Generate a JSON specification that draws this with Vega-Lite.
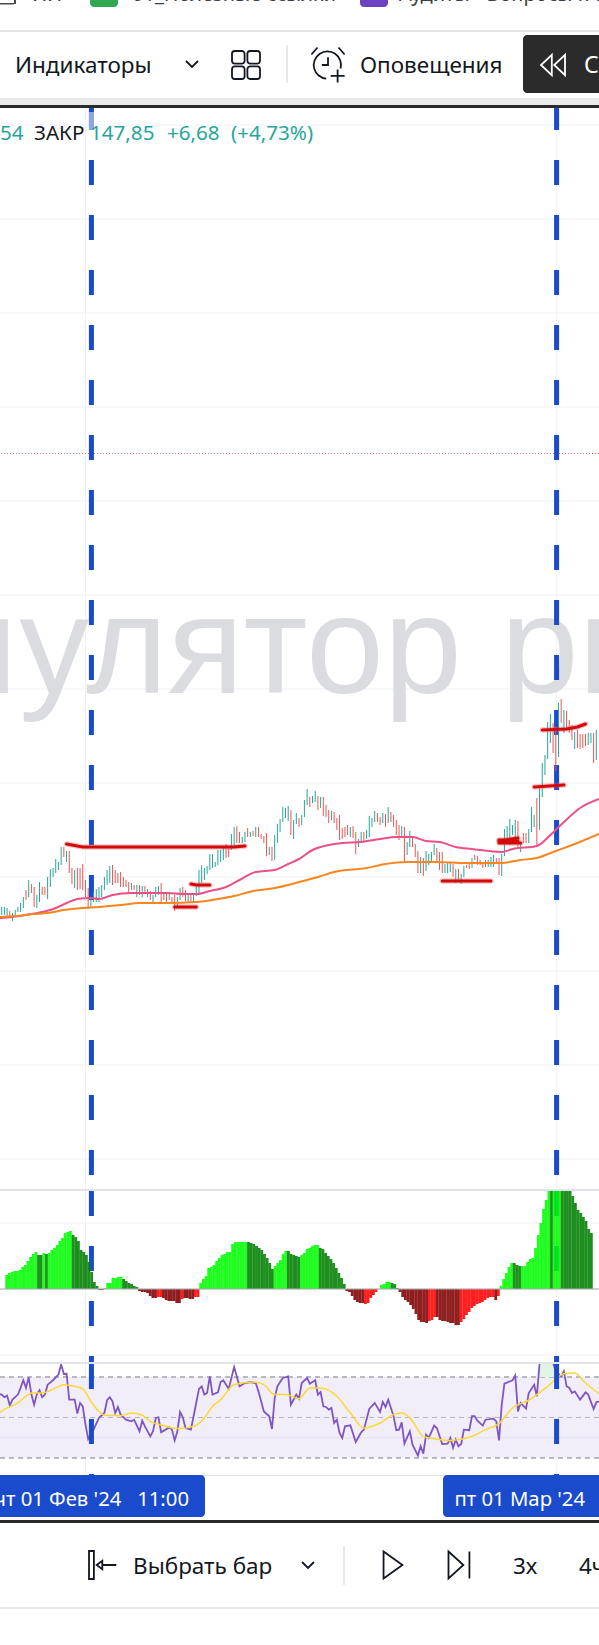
{"$schema":"https://vega.github.io/schema/vega-lite/v6.json","width":599,"height":1645,"padding":0,"autosize":{"type":"none"},"background":"white","config":{"view":{"stroke":null}},
"datasets":{
"bars":[{"bar":0,"high":102.5,"low":101.7,"dir":"up","hist":1.4,"tone":"A"},{"bar":1,"high":102.5,"low":101.7,"dir":"up","hist":1.6,"tone":"A"},{"bar":2,"high":102.4,"low":101.6,"dir":"up","hist":1.7,"tone":"A"},{"bar":3,"high":102.1,"low":101.5,"dir":"down","hist":1.8,"tone":"A"},{"bar":4,"high":101.9,"low":101.1,"dir":"up","hist":1.8,"tone":"A"},{"bar":5,"high":102.2,"low":101.5,"dir":"up","hist":1.9,"tone":"A"},{"bar":6,"high":102.5,"low":102.0,"dir":"up","hist":2.2,"tone":"A"},{"bar":7,"high":102.9,"low":102.0,"dir":"up","hist":2.4,"tone":"A"},{"bar":8,"high":103.5,"low":102.4,"dir":"up","hist":2.8,"tone":"A"},{"bar":9,"high":104.2,"low":103.2,"dir":"down","hist":3.2,"tone":"A"},{"bar":10,"high":105.2,"low":103.5,"dir":"up","hist":3.5,"tone":"A"},{"bar":11,"high":104.8,"low":103.9,"dir":"down","hist":3.7,"tone":"A"},{"bar":12,"high":104.5,"low":102.5,"dir":"down","hist":3.4,"tone":"B"},{"bar":13,"high":103.7,"low":102.4,"dir":"up","hist":3.4,"tone":"B"},{"bar":14,"high":105.0,"low":103.0,"dir":"up","hist":3.6,"tone":"A"},{"bar":15,"high":104.5,"low":103.7,"dir":"down","hist":3.5,"tone":"B"},{"bar":16,"high":104.5,"low":103.7,"dir":"down","hist":3.6,"tone":"A"},{"bar":17,"high":105.5,"low":103.3,"dir":"up","hist":3.9,"tone":"A"},{"bar":18,"high":106.3,"low":104.5,"dir":"up","hist":4.1,"tone":"A"},{"bar":19,"high":106.4,"low":105.5,"dir":"up","hist":4.4,"tone":"A"},{"bar":20,"high":107.3,"low":105.9,"dir":"up","hist":4.8,"tone":"A"},{"bar":21,"high":107.0,"low":106.2,"dir":"up","hist":5.1,"tone":"A"},{"bar":22,"high":108.5,"low":106.7,"dir":"up","hist":5.6,"tone":"A"},{"bar":23,"high":108.5,"low":107.5,"dir":"down","hist":5.7,"tone":"A"},{"bar":24,"high":108.1,"low":107.0,"dir":"up","hist":5.8,"tone":"A"},{"bar":25,"high":108.1,"low":105.9,"dir":"down","hist":5.4,"tone":"B"},{"bar":26,"high":106.4,"low":104.8,"dir":"down","hist":5.2,"tone":"B"},{"bar":27,"high":106.2,"low":104.4,"dir":"up","hist":4.8,"tone":"B"},{"bar":28,"high":106.4,"low":104.2,"dir":"down","hist":3.9,"tone":"B"},{"bar":29,"high":106.4,"low":104.3,"dir":"down","hist":3.7,"tone":"B"},{"bar":30,"high":106.8,"low":104.2,"dir":"down","hist":3.4,"tone":"B"},{"bar":31,"high":105.2,"low":103.5,"dir":"down","hist":2.7,"tone":"B"},{"bar":32,"high":104.4,"low":102.3,"dir":"down","hist":1.7,"tone":"B"},{"bar":33,"high":103.5,"low":102.4,"dir":"up","hist":0.7,"tone":"B"},{"bar":34,"high":103.9,"low":103.0,"dir":"up","hist":0.3,"tone":"B"},{"bar":35,"high":104.3,"low":103.0,"dir":"up","hist":-0.1,"tone":"C"},{"bar":36,"high":104.5,"low":103.0,"dir":"up","hist":-0.1,"tone":"C"},{"bar":37,"high":104.7,"low":103.5,"dir":"up","hist":0.1,"tone":"A"},{"bar":38,"high":105.5,"low":104.2,"dir":"up","hist":0.6,"tone":"A"},{"bar":39,"high":106.2,"low":104.7,"dir":"up","hist":0.6,"tone":"A"},{"bar":40,"high":106.6,"low":104.9,"dir":"up","hist":1.1,"tone":"A"},{"bar":41,"high":106.7,"low":104.7,"dir":"down","hist":1.1,"tone":"A"},{"bar":42,"high":106.2,"low":104.9,"dir":"down","hist":1.2,"tone":"A"},{"bar":43,"high":105.9,"low":104.9,"dir":"down","hist":1.2,"tone":"A"},{"bar":44,"high":106.0,"low":104.5,"dir":"down","hist":1.0,"tone":"B"},{"bar":45,"high":105.5,"low":104.5,"dir":"down","hist":0.8,"tone":"B"},{"bar":46,"high":105.2,"low":104.5,"dir":"down","hist":0.6,"tone":"B"},{"bar":47,"high":105.0,"low":103.9,"dir":"down","hist":0.5,"tone":"B"},{"bar":48,"high":104.9,"low":104.2,"dir":"up","hist":0.3,"tone":"B"},{"bar":49,"high":104.7,"low":104.2,"dir":"down","hist":0.2,"tone":"B"},{"bar":50,"high":104.7,"low":103.5,"dir":"up","hist":-0.2,"tone":"C"},{"bar":51,"high":104.7,"low":103.7,"dir":"down","hist":-0.3,"tone":"C"},{"bar":52,"high":104.6,"low":103.5,"dir":"up","hist":-0.3,"tone":"C"},{"bar":53,"high":104.6,"low":104.0,"dir":"down","hist":-0.4,"tone":"C"},{"bar":54,"high":104.3,"low":103.5,"dir":"up","hist":-0.7,"tone":"C"},{"bar":55,"high":104.1,"low":103.2,"dir":"down","hist":-0.9,"tone":"C"},{"bar":56,"high":103.7,"low":102.8,"dir":"up","hist":-0.9,"tone":"C"},{"bar":57,"high":104.5,"low":103.5,"dir":"up","hist":-0.8,"tone":"D"},{"bar":58,"high":104.6,"low":103.7,"dir":"up","hist":-0.8,"tone":"D"},{"bar":59,"high":104.9,"low":103.0,"dir":"down","hist":-0.9,"tone":"C"},{"bar":60,"high":104.0,"low":103.2,"dir":"down","hist":-1.1,"tone":"C"},{"bar":61,"high":103.9,"low":102.9,"dir":"down","hist":-1.2,"tone":"C"},{"bar":62,"high":104.0,"low":103.2,"dir":"up","hist":-1.2,"tone":"C"},{"bar":63,"high":103.5,"low":103.0,"dir":"down","hist":-1.2,"tone":"C"},{"bar":64,"high":103.7,"low":102.1,"dir":"down","hist":-1.4,"tone":"C"},{"bar":65,"high":103.5,"low":102.5,"dir":"up","hist":-1.4,"tone":"C"},{"bar":66,"high":104.4,"low":103.2,"dir":"up","hist":-1.0,"tone":"D"},{"bar":67,"high":104.5,"low":103.5,"dir":"down","hist":-0.9,"tone":"C"},{"bar":68,"high":104.2,"low":103.1,"dir":"down","hist":-0.9,"tone":"C"},{"bar":69,"high":103.7,"low":103.0,"dir":"up","hist":-1.0,"tone":"C"},{"bar":70,"high":103.9,"low":102.9,"dir":"down","hist":-1.0,"tone":"C"},{"bar":71,"high":103.9,"low":103.0,"dir":"up","hist":-0.8,"tone":"D"},{"bar":72,"high":104.5,"low":103.6,"dir":"up","hist":-0.8,"tone":"D"},{"bar":73,"high":106.2,"low":103.9,"dir":"up","hist":0.6,"tone":"A"},{"bar":74,"high":106.7,"low":104.9,"dir":"up","hist":1.0,"tone":"A"},{"bar":75,"high":106.4,"low":105.2,"dir":"up","hist":1.3,"tone":"A"},{"bar":76,"high":106.6,"low":105.8,"dir":"up","hist":2.1,"tone":"A"},{"bar":77,"high":107.8,"low":106.2,"dir":"up","hist":2.2,"tone":"A"},{"bar":78,"high":107.8,"low":106.4,"dir":"up","hist":2.4,"tone":"A"},{"bar":79,"high":107.0,"low":106.5,"dir":"up","hist":2.8,"tone":"A"},{"bar":80,"high":108.2,"low":106.7,"dir":"up","hist":3.1,"tone":"A"},{"bar":81,"high":108.2,"low":107.0,"dir":"up","hist":3.4,"tone":"A"},{"bar":82,"high":108.4,"low":107.2,"dir":"up","hist":3.5,"tone":"A"},{"bar":83,"high":108.8,"low":107.4,"dir":"down","hist":3.7,"tone":"A"},{"bar":84,"high":108.5,"low":107.5,"dir":"down","hist":3.7,"tone":"A"},{"bar":85,"high":109.8,"low":108.2,"dir":"up","hist":4.5,"tone":"A"},{"bar":86,"high":110.5,"low":108.5,"dir":"up","hist":4.7,"tone":"A"},{"bar":87,"high":110.6,"low":108.9,"dir":"down","hist":4.7,"tone":"A"},{"bar":88,"high":110.0,"low":108.9,"dir":"down","hist":4.7,"tone":"A"},{"bar":89,"high":109.5,"low":108.9,"dir":"up","hist":4.7,"tone":"A"},{"bar":90,"high":110.0,"low":109.0,"dir":"up","hist":4.7,"tone":"A"},{"bar":91,"high":110.4,"low":109.5,"dir":"down","hist":4.7,"tone":"B"},{"bar":92,"high":110.0,"low":109.5,"dir":"up","hist":4.6,"tone":"B"},{"bar":93,"high":110.1,"low":109.6,"dir":"down","hist":4.5,"tone":"B"},{"bar":94,"high":110.5,"low":109.5,"dir":"up","hist":4.3,"tone":"B"},{"bar":95,"high":110.5,"low":109.5,"dir":"down","hist":4.1,"tone":"B"},{"bar":96,"high":109.8,"low":109.3,"dir":"down","hist":3.9,"tone":"B"},{"bar":97,"high":109.6,"low":108.9,"dir":"down","hist":3.5,"tone":"B"},{"bar":98,"high":109.9,"low":107.6,"dir":"down","hist":3.1,"tone":"B"},{"bar":99,"high":108.5,"low":107.7,"dir":"up","hist":2.6,"tone":"B"},{"bar":100,"high":108.5,"low":107.1,"dir":"down","hist":2.0,"tone":"B"},{"bar":101,"high":109.7,"low":107.2,"dir":"up","hist":2.3,"tone":"A"},{"bar":102,"high":110.8,"low":108.9,"dir":"up","hist":2.6,"tone":"A"},{"bar":103,"high":111.3,"low":110.0,"dir":"up","hist":2.9,"tone":"A"},{"bar":104,"high":112.5,"low":111.0,"dir":"up","hist":3.5,"tone":"A"},{"bar":105,"high":112.4,"low":111.4,"dir":"up","hist":3.8,"tone":"A"},{"bar":106,"high":112.6,"low":111.1,"dir":"up","hist":3.8,"tone":"B"},{"bar":107,"high":112.2,"low":109.7,"dir":"down","hist":3.5,"tone":"B"},{"bar":108,"high":111.2,"low":109.3,"dir":"up","hist":3.4,"tone":"B"},{"bar":109,"high":111.9,"low":110.8,"dir":"up","hist":3.3,"tone":"B"},{"bar":110,"high":111.4,"low":110.5,"dir":"down","hist":3.2,"tone":"B"},{"bar":111,"high":111.7,"low":110.7,"dir":"up","hist":3.4,"tone":"A"},{"bar":112,"high":113.2,"low":111.5,"dir":"up","hist":3.6,"tone":"A"},{"bar":113,"high":114.3,"low":112.7,"dir":"up","hist":4.0,"tone":"A"},{"bar":114,"high":113.5,"low":112.5,"dir":"down","hist":4.1,"tone":"A"},{"bar":115,"high":113.6,"low":112.9,"dir":"up","hist":4.3,"tone":"A"},{"bar":116,"high":114.1,"low":113.0,"dir":"up","hist":4.4,"tone":"A"},{"bar":117,"high":113.6,"low":112.2,"dir":"down","hist":4.4,"tone":"A"},{"bar":118,"high":113.5,"low":112.4,"dir":"up","hist":4.1,"tone":"B"},{"bar":119,"high":113.5,"low":111.6,"dir":"down","hist":4.0,"tone":"B"},{"bar":120,"high":112.7,"low":111.5,"dir":"down","hist":3.6,"tone":"B"},{"bar":121,"high":112.2,"low":110.9,"dir":"down","hist":3.3,"tone":"B"},{"bar":122,"high":112.1,"low":111.2,"dir":"up","hist":3.0,"tone":"B"},{"bar":123,"high":112.0,"low":110.9,"dir":"down","hist":2.6,"tone":"B"},{"bar":124,"high":111.4,"low":110.2,"dir":"down","hist":2.1,"tone":"B"},{"bar":125,"high":111.7,"low":109.2,"dir":"down","hist":1.6,"tone":"B"},{"bar":126,"high":110.4,"low":109.3,"dir":"down","hist":1.1,"tone":"B"},{"bar":127,"high":110.5,"low":109.5,"dir":"down","hist":0.5,"tone":"B"},{"bar":128,"high":110.7,"low":109.7,"dir":"down","hist":-0.2,"tone":"C"},{"bar":129,"high":110.5,"low":109.5,"dir":"up","hist":-0.3,"tone":"C"},{"bar":130,"high":110.6,"low":109.4,"dir":"down","hist":-0.7,"tone":"C"},{"bar":131,"high":110.0,"low":107.8,"dir":"down","hist":-1.1,"tone":"C"},{"bar":132,"high":109.3,"low":108.5,"dir":"up","hist":-1.3,"tone":"C"},{"bar":133,"high":110.0,"low":109.0,"dir":"up","hist":-1.4,"tone":"C"},{"bar":134,"high":110.0,"low":109.0,"dir":"down","hist":-1.4,"tone":"C"},{"bar":135,"high":110.2,"low":109.3,"dir":"up","hist":-1.5,"tone":"D"},{"bar":136,"high":111.6,"low":109.5,"dir":"up","hist":-1.4,"tone":"D"},{"bar":137,"high":111.4,"low":110.5,"dir":"up","hist":-0.9,"tone":"D"},{"bar":138,"high":112.1,"low":111.0,"dir":"up","hist":-0.6,"tone":"D"},{"bar":139,"high":111.9,"low":111.0,"dir":"down","hist":-0.3,"tone":"D"},{"bar":140,"high":111.5,"low":110.7,"dir":"down","hist":0,"tone":"A"},{"bar":141,"high":111.9,"low":110.9,"dir":"up","hist":0.4,"tone":"A"},{"bar":142,"high":111.8,"low":110.5,"dir":"down","hist":0.5,"tone":"A"},{"bar":143,"high":112.5,"low":110.9,"dir":"up","hist":0.7,"tone":"A"},{"bar":144,"high":112.0,"low":111.0,"dir":"down","hist":0.7,"tone":"A"},{"bar":145,"high":111.7,"low":110.5,"dir":"down","hist":0.6,"tone":"B"},{"bar":146,"high":111.2,"low":109.7,"dir":"down","hist":0.5,"tone":"B"},{"bar":147,"high":110.7,"low":109.2,"dir":"down","hist":0.1,"tone":"B"},{"bar":148,"high":110.6,"low":109.4,"dir":"up","hist":-0.3,"tone":"C"},{"bar":149,"high":110.5,"low":106.9,"dir":"down","hist":-0.8,"tone":"C"},{"bar":150,"high":109.0,"low":107.7,"dir":"up","hist":-1.1,"tone":"C"},{"bar":151,"high":110.1,"low":108.5,"dir":"up","hist":-1.3,"tone":"C"},{"bar":152,"high":109.5,"low":108.5,"dir":"down","hist":-1.6,"tone":"C"},{"bar":153,"high":108.8,"low":107.5,"dir":"down","hist":-2.0,"tone":"C"},{"bar":154,"high":108.1,"low":105.9,"dir":"down","hist":-2.5,"tone":"C"},{"bar":155,"high":107.5,"low":105.9,"dir":"up","hist":-3.1,"tone":"C"},{"bar":156,"high":107.4,"low":105.6,"dir":"down","hist":-3.3,"tone":"C"},{"bar":157,"high":108.1,"low":106.1,"dir":"up","hist":-3.3,"tone":"C"},{"bar":158,"high":107.8,"low":106.7,"dir":"up","hist":-3.4,"tone":"C"},{"bar":159,"high":108.0,"low":106.9,"dir":"up","hist":-3.2,"tone":"D"},{"bar":160,"high":108.8,"low":107.7,"dir":"up","hist":-3.1,"tone":"D"},{"bar":161,"high":108.4,"low":107.0,"dir":"down","hist":-2.8,"tone":"D"},{"bar":162,"high":108.0,"low":106.2,"dir":"down","hist":-2.8,"tone":"C"},{"bar":163,"high":108.0,"low":105.9,"dir":"down","hist":-3.1,"tone":"C"},{"bar":164,"high":106.8,"low":105.9,"dir":"up","hist":-3.2,"tone":"C"},{"bar":165,"high":106.9,"low":105.9,"dir":"up","hist":-3.2,"tone":"C"},{"bar":166,"high":106.9,"low":106.0,"dir":"up","hist":-3.3,"tone":"C"},{"bar":167,"high":106.8,"low":105.5,"dir":"down","hist":-3.4,"tone":"C"},{"bar":168,"high":106.3,"low":104.9,"dir":"up","hist":-3.4,"tone":"C"},{"bar":169,"high":106.3,"low":105.0,"dir":"down","hist":-3.6,"tone":"C"},{"bar":170,"high":105.8,"low":104.8,"dir":"up","hist":-3.6,"tone":"C"},{"bar":171,"high":106.6,"low":105.5,"dir":"up","hist":-3.3,"tone":"D"},{"bar":172,"high":106.7,"low":106.4,"dir":"down","hist":-3.0,"tone":"D"},{"bar":173,"high":106.8,"low":106.3,"dir":"down","hist":-2.6,"tone":"D"},{"bar":174,"high":107.4,"low":106.4,"dir":"up","hist":-2.3,"tone":"D"},{"bar":175,"high":107.7,"low":107.2,"dir":"down","hist":-1.9,"tone":"D"},{"bar":176,"high":107.6,"low":106.7,"dir":"down","hist":-1.7,"tone":"D"},{"bar":177,"high":107.2,"low":106.7,"dir":"down","hist":-1.5,"tone":"D"},{"bar":178,"high":107.0,"low":106.4,"dir":"down","hist":-1.4,"tone":"D"},{"bar":179,"high":107.2,"low":106.5,"dir":"down","hist":-1.3,"tone":"D"},{"bar":180,"high":107.2,"low":106.5,"dir":"up","hist":-1.1,"tone":"D"},{"bar":181,"high":107.5,"low":106.5,"dir":"up","hist":-0.9,"tone":"D"},{"bar":182,"high":107.7,"low":106.5,"dir":"up","hist":-0.8,"tone":"D"},{"bar":183,"high":107.4,"low":106.8,"dir":"down","hist":-0.8,"tone":"D"},{"bar":184,"high":107.4,"low":105.7,"dir":"down","hist":-1.1,"tone":"C"},{"bar":185,"high":107.8,"low":105.6,"dir":"up","hist":-0.7,"tone":"D"},{"bar":186,"high":110.3,"low":107.6,"dir":"up","hist":0.3,"tone":"A"},{"bar":187,"high":110.6,"low":109.4,"dir":"up","hist":1.0,"tone":"A"},{"bar":188,"high":111.3,"low":108.7,"dir":"up","hist":1.6,"tone":"A"},{"bar":189,"high":110.7,"low":109.7,"dir":"up","hist":2.2,"tone":"A"},{"bar":190,"high":111.2,"low":109.5,"dir":"up","hist":2.6,"tone":"A"},{"bar":191,"high":111.1,"low":108.4,"dir":"down","hist":2.6,"tone":"B"},{"bar":192,"high":108.9,"low":108.0,"dir":"up","hist":2.4,"tone":"B"},{"bar":193,"high":109.9,"low":108.9,"dir":"down","hist":2.3,"tone":"B"},{"bar":194,"high":109.9,"low":108.9,"dir":"down","hist":2.3,"tone":"A"},{"bar":195,"high":110.3,"low":108.9,"dir":"up","hist":2.3,"tone":"A"},{"bar":196,"high":112.5,"low":110.0,"dir":"up","hist":2.7,"tone":"A"},{"bar":197,"high":111.7,"low":110.5,"dir":"up","hist":3.0,"tone":"A"},{"bar":198,"high":113.4,"low":108.7,"dir":"down","hist":3.1,"tone":"A"},{"bar":199,"high":114.5,"low":110.2,"dir":"up","hist":4.1,"tone":"A"},{"bar":200,"high":116.9,"low":113.5,"dir":"up","hist":5.4,"tone":"A"},{"bar":201,"high":117.7,"low":115.7,"dir":"up","hist":6.6,"tone":"A"},{"bar":202,"high":121.0,"low":117.3,"dir":"up","hist":8.0,"tone":"A"},{"bar":203,"high":121.8,"low":118.9,"dir":"up","hist":8.9,"tone":"A"},{"bar":204,"high":120.9,"low":117.9,"dir":"down","hist":9.8,"tone":"A"},{"bar":205,"high":120.5,"low":116.1,"dir":"down","hist":9.8,"tone":"B"},{"bar":206,"high":122.9,"low":117.5,"dir":"up","hist":9.8,"tone":"A"},{"bar":207,"high":123.3,"low":120.9,"dir":"down","hist":9.8,"tone":"A"},{"bar":208,"high":122.2,"low":119.9,"dir":"up","hist":9.8,"tone":"A"},{"bar":209,"high":122.1,"low":120.2,"dir":"down","hist":9.8,"tone":"B"},{"bar":210,"high":121.2,"low":119.9,"dir":"down","hist":9.8,"tone":"B"},{"bar":211,"high":120.7,"low":119.2,"dir":"down","hist":9.8,"tone":"B"},{"bar":212,"high":120.0,"low":118.3,"dir":"up","hist":9.8,"tone":"B"},{"bar":213,"high":120.2,"low":118.4,"dir":"down","hist":9.3,"tone":"B"},{"bar":214,"high":119.8,"low":118.3,"dir":"down","hist":8.6,"tone":"B"},{"bar":215,"high":119.8,"low":118.4,"dir":"down","hist":7.9,"tone":"B"},{"bar":216,"high":119.8,"low":118.6,"dir":"down","hist":7.6,"tone":"B"},{"bar":217,"high":119.9,"low":118.7,"dir":"up","hist":7.2,"tone":"B"},{"bar":218,"high":119.9,"low":118.9,"dir":"up","hist":6.8,"tone":"B"},{"bar":219,"high":119.9,"low":116.9,"dir":"down","hist":6.0,"tone":"B"},{"bar":220,"high":120.2,"low":117.2,"dir":"up","hist":5.6,"tone":"B"}],
"ma":[{"s":"fast","bar":-1,"v":101.4},{"s":"fast","bar":4,"v":101.5},{"s":"fast","bar":9,"v":101.7},{"s":"fast","bar":15,"v":102.0},{"s":"fast","bar":20,"v":102.4},{"s":"fast","bar":24,"v":102.9},{"s":"fast","bar":28,"v":103.3},{"s":"fast","bar":33,"v":103.4},{"s":"fast","bar":36,"v":103.3},{"s":"fast","bar":41,"v":103.7},{"s":"fast","bar":48,"v":103.9},{"s":"fast","bar":55,"v":103.9},{"s":"fast","bar":61,"v":103.9},{"s":"fast","bar":67,"v":103.8},{"s":"fast","bar":72,"v":103.8},{"s":"fast","bar":77,"v":104.1},{"s":"fast","bar":83,"v":104.5},{"s":"fast","bar":88,"v":105.2},{"s":"fast","bar":94,"v":106.0},{"s":"fast","bar":101,"v":106.2},{"s":"fast","bar":106,"v":106.8},{"s":"fast","bar":110,"v":107.3},{"s":"fast","bar":115,"v":108.2},{"s":"fast","bar":121,"v":108.7},{"s":"fast","bar":126,"v":108.9},{"s":"fast","bar":133,"v":109.0},{"s":"fast","bar":140,"v":109.3},{"s":"fast","bar":146,"v":109.5},{"s":"fast","bar":152,"v":109.5},{"s":"fast","bar":157,"v":109.1},{"s":"fast","bar":162,"v":109.0},{"s":"fast","bar":168,"v":108.5},{"s":"fast","bar":174,"v":108.3},{"s":"fast","bar":185,"v":108.0},{"s":"fast","bar":189,"v":108.3},{"s":"fast","bar":198,"v":108.6},{"s":"fast","bar":203,"v":109.7},{"s":"fast","bar":208,"v":111.0},{"s":"fast","bar":214,"v":112.4},{"s":"fast","bar":221,"v":113.3},{"s":"slow","bar":-1,"v":101.5},{"s":"slow","bar":5,"v":101.6},{"s":"slow","bar":12,"v":101.8},{"s":"slow","bar":17,"v":101.9},{"s":"slow","bar":23,"v":102.2},{"s":"slow","bar":30,"v":102.4},{"s":"slow","bar":36,"v":102.5},{"s":"slow","bar":44,"v":102.7},{"s":"slow","bar":51,"v":102.9},{"s":"slow","bar":61,"v":102.9},{"s":"slow","bar":72,"v":103.0},{"s":"slow","bar":80,"v":103.3},{"s":"slow","bar":86,"v":103.6},{"s":"slow","bar":93,"v":104.1},{"s":"slow","bar":101,"v":104.4},{"s":"slow","bar":106,"v":104.7},{"s":"slow","bar":110,"v":105.0},{"s":"slow","bar":117,"v":105.5},{"s":"slow","bar":123,"v":106.0},{"s":"slow","bar":135,"v":106.4},{"s":"slow","bar":142,"v":106.8},{"s":"slow","bar":150,"v":107.0},{"s":"slow","bar":160,"v":107.0},{"s":"slow","bar":172,"v":106.9},{"s":"slow","bar":185,"v":106.9},{"s":"slow","bar":192,"v":107.2},{"s":"slow","bar":198,"v":107.4},{"s":"slow","bar":205,"v":108.1},{"s":"slow","bar":213,"v":108.9},{"s":"slow","bar":221,"v":109.8}],
"strokes":[{"id":"a","bar":24,"p":108.8},{"id":"a","bar":28,"p":108.6},{"id":"a","bar":30,"p":108.5},{"id":"a","bar":86,"p":108.5},{"id":"a","bar":90,"p":108.6},{"id":"b","bar":70,"p":104.8},{"id":"b","bar":72,"p":104.7},{"id":"b","bar":77,"p":104.7},{"id":"c","bar":64,"p":102.5},{"id":"c","bar":72,"p":102.5},{"id":"d","bar":163,"p":105.1},{"id":"d","bar":181,"p":105.1},{"id":"e","bar":184,"p":109.1},{"id":"e","bar":191,"p":109.4},{"id":"f","bar":184,"p":109.2},{"id":"f","bar":191,"p":109.1},{"id":"g","bar":184,"p":108.9},{"id":"g","bar":192,"p":108.9},{"id":"h","bar":197,"p":114.5},{"id":"h","bar":208,"p":114.7},{"id":"i","bar":200,"p":120.2},{"id":"i","bar":209,"p":120.3},{"id":"i","bar":213,"p":120.5},{"id":"i","bar":216,"p":120.8}],
"rsi":[{"bar":-1,"v":61.6},{"bar":0,"v":61.3},{"bar":1,"v":60},{"bar":2,"v":60.8},{"bar":3,"v":56},{"bar":4,"v":58.8},{"bar":6,"v":61.3},{"bar":7,"v":64.6},{"bar":8,"v":68.4},{"bar":9,"v":64.6},{"bar":10,"v":69.8},{"bar":11,"v":61.3},{"bar":12,"v":56.3},{"bar":13,"v":61.3},{"bar":14,"v":63.4},{"bar":15,"v":60},{"bar":16,"v":61.3},{"bar":17,"v":66.2},{"bar":19,"v":68.4},{"bar":21,"v":71.2},{"bar":22,"v":76.1},{"bar":23,"v":71.5},{"bar":24,"v":71.6},{"bar":25,"v":58.8},{"bar":27,"v":58.8},{"bar":28,"v":51.9},{"bar":29,"v":57.2},{"bar":30,"v":55.5},{"bar":31,"v":46.5},{"bar":32,"v":39.4},{"bar":34,"v":44},{"bar":36,"v":49.8},{"bar":38,"v":52.2},{"bar":39,"v":58.5},{"bar":40,"v":60},{"bar":41,"v":58},{"bar":42,"v":52.2},{"bar":43,"v":55.2},{"bar":44,"v":51.4},{"bar":46,"v":48.9},{"bar":48,"v":48.1},{"bar":49,"v":48.9},{"bar":51,"v":43.2},{"bar":52,"v":48.4},{"bar":53,"v":45.6},{"bar":55,"v":40.7},{"bar":56,"v":43.2},{"bar":57,"v":49.8},{"bar":58,"v":50.1},{"bar":59,"v":42.7},{"bar":60,"v":43.5},{"bar":62,"v":45.1},{"bar":63,"v":44},{"bar":64,"v":38.7},{"bar":65,"v":43.2},{"bar":66,"v":52.7},{"bar":67,"v":50.1},{"bar":68,"v":44.8},{"bar":70,"v":44},{"bar":71,"v":50.6},{"bar":73,"v":64.1},{"bar":74,"v":65.4},{"bar":75,"v":61.3},{"bar":76,"v":62.1},{"bar":77,"v":70.3},{"bar":78,"v":61.3},{"bar":80,"v":62.4},{"bar":81,"v":67.5},{"bar":82,"v":68.4},{"bar":84,"v":64.1},{"bar":86,"v":74.9},{"bar":88,"v":65.4},{"bar":90,"v":67},{"bar":92,"v":67.5},{"bar":94,"v":67},{"bar":95,"v":62.9},{"bar":97,"v":53},{"bar":99,"v":50.6},{"bar":100,"v":44.3},{"bar":101,"v":59.6},{"bar":102,"v":65.4},{"bar":104,"v":69.5},{"bar":106,"v":70.3},{"bar":107,"v":56.3},{"bar":109,"v":61.3},{"bar":110,"v":59.3},{"bar":111,"v":67},{"bar":113,"v":69.5},{"bar":114,"v":66.7},{"bar":116,"v":68.4},{"bar":117,"v":61.3},{"bar":118,"v":62.6},{"bar":119,"v":55.5},{"bar":120,"v":55.2},{"bar":121,"v":53.9},{"bar":122,"v":54.7},{"bar":123,"v":47.3},{"bar":124,"v":48.9},{"bar":125,"v":42.4},{"bar":126,"v":39.9},{"bar":127,"v":45.6},{"bar":129,"v":46.1},{"bar":131,"v":37.9},{"bar":133,"v":42.7},{"bar":134,"v":44},{"bar":136,"v":54.2},{"bar":138,"v":57.2},{"bar":140,"v":52.7},{"bar":141,"v":57.7},{"bar":142,"v":55.2},{"bar":143,"v":58.8},{"bar":145,"v":50.6},{"bar":146,"v":43.7},{"bar":147,"v":44},{"bar":148,"v":47.6},{"bar":149,"v":37.1},{"bar":151,"v":43.2},{"bar":152,"v":36.6},{"bar":154,"v":31.2},{"bar":155,"v":35.8},{"bar":156,"v":32.1},{"bar":157,"v":41.5},{"bar":158,"v":39.9},{"bar":160,"v":46},{"bar":161,"v":44.8},{"bar":163,"v":36.9},{"bar":165,"v":37.1},{"bar":166,"v":39.9},{"bar":167,"v":35},{"bar":168,"v":39.1},{"bar":169,"v":35.8},{"bar":170,"v":36.9},{"bar":171,"v":44},{"bar":173,"v":43.7},{"bar":174,"v":50.6},{"bar":175,"v":50.6},{"bar":176,"v":48.4},{"bar":178,"v":46},{"bar":179,"v":48.9},{"bar":182,"v":49.4},{"bar":183,"v":48.1},{"bar":184,"v":38.7},{"bar":185,"v":56.3},{"bar":186,"v":66.7},{"bar":189,"v":68.4},{"bar":190,"v":70.7},{"bar":191,"v":53},{"bar":192,"v":57.2},{"bar":194,"v":54.4},{"bar":195,"v":62.1},{"bar":197,"v":66.2},{"bar":198,"v":60.5},{"bar":199,"v":76.9},{"bar":204,"v":76.9},{"bar":205,"v":72.8},{"bar":207,"v":70.3},{"bar":208,"v":72.8},{"bar":209,"v":65.4},{"bar":210,"v":64.6},{"bar":211,"v":62.1},{"bar":212,"v":62.9},{"bar":214,"v":58.8},{"bar":216,"v":62.4},{"bar":217,"v":61.3},{"bar":219,"v":54.2},{"bar":220,"v":57.5},{"bar":221,"v":58}],
"rsiAvg":[{"bar":-1,"v":52.2},{"bar":2,"v":54.7},{"bar":6,"v":57.2},{"bar":9,"v":60.5},{"bar":11,"v":62.1},{"bar":15,"v":62.1},{"bar":20,"v":64.6},{"bar":23,"v":66.2},{"bar":27,"v":65.4},{"bar":30,"v":64.1},{"bar":33,"v":58},{"bar":36,"v":53},{"bar":38,"v":51.1},{"bar":44,"v":50.9},{"bar":48,"v":52.2},{"bar":52,"v":51.1},{"bar":55,"v":48.1},{"bar":60,"v":46},{"bar":65,"v":44.5},{"bar":71,"v":45.6},{"bar":75,"v":49.8},{"bar":78,"v":55.5},{"bar":81,"v":58.8},{"bar":86,"v":66.2},{"bar":93,"v":67.5},{"bar":97,"v":66.2},{"bar":101,"v":61.3},{"bar":105,"v":61.3},{"bar":110,"v":59.3},{"bar":114,"v":64.6},{"bar":118,"v":64.6},{"bar":124,"v":60.5},{"bar":129,"v":52.2},{"bar":134,"v":44.8},{"bar":140,"v":47.3},{"bar":145,"v":51.4},{"bar":148,"v":52.2},{"bar":151,"v":49.8},{"bar":156,"v":40.7},{"bar":160,"v":39.5},{"bar":166,"v":38.6},{"bar":173,"v":40.2},{"bar":179,"v":44},{"bar":184,"v":47},{"bar":189,"v":54.7},{"bar":195,"v":58.5},{"bar":202,"v":65.4},{"bar":208,"v":71.6},{"bar":212,"v":72},{"bar":216,"v":67},{"bar":221,"v":61.8}],
"priceGrid":[{"p":180.7},{"p":171.3},{"p":161.9},{"p":152.5},{"p":143.1},{"p":133.7},{"p":124.3},{"p":114.9},{"p":105.5},{"p":96.1},{"p":86.7},{"p":77.3}],
"markers":[{"bar":33.2,"from":105,"to":1190},{"bar":205.3,"from":105,"to":1190},{"bar":33.2,"from":1191,"to":1362},{"bar":205.3,"from":1191,"to":1362},{"bar":33.2,"from":1364,"to":1476},{"bar":205.3,"from":1364,"to":1476}],
"timeGrid":[{"bar":31,"from":108,"to":1475},{"bar":205.2,"from":108,"to":1475}],
"rects":[{"item":"topline","c1":0,"c2":599,"r1":30,"r2":32},{"item":"band","c1":0,"c2":599,"r1":98,"r2":105},{"item":"frameTop","c1":0,"c2":599,"r1":105,"r2":108},{"item":"frameBottom","c1":0,"c2":599,"r1":1520,"r2":1523},{"item":"footline","c1":0,"c2":599,"r1":1607,"r2":1609},{"item":"sep1","c1":286,"c2":288,"r1":45,"r2":83},{"item":"sep2","c1":343,"c2":345,"r1":1546,"r2":1585},{"item":"pane1","c1":0,"c2":599,"r1":1189,"r2":1191},{"item":"pane2","c1":0,"c2":599,"r1":1362,"r2":1364},{"item":"axis","c1":0,"c2":599,"r1":1475,"r2":1476},{"item":"tabLine","c1":0,"c2":14,"r1":3,"r2":4.5},{"item":"tabEdge","c1":14,"c2":16,"r1":0,"r2":4}],
"rounded":[{"item":"green","c1":90,"c2":118,"r1":-4,"r2":7},{"item":"purple","c1":360,"c2":388,"r1":-4,"r2":7},{"item":"startLabel","c1":-6,"c2":205,"r1":1475,"r2":1517},{"item":"endLabel","c1":443,"c2":606,"r1":1475,"r2":1517},{"item":"replay","c1":523,"c2":620,"r1":35,"r2":93}],
"icons":[{"item":"chevronTop","col":192,"row":64},{"item":"grid","col":246,"row":65},{"item":"alarm","col":328,"row":65},{"item":"chevronBottom","col":308,"row":1565},{"item":"pick","col":103,"row":1565},{"item":"play","col":393,"row":1565},{"item":"step","col":462,"row":1565}],
"back":[{"item":"rewind","col":553,"row":65}],
"tabs":[{"t":"ИИ","col":32,"row":-5},{"t":"01_Полезные ссылки","col":132,"row":-5},{"t":"Аудиты - Вопросы к теме","col":399,"row":-5}],
"tools":[{"t":"Индикаторы","col":15,"row":66},{"t":"Оповещения","col":360,"row":66},{"t":"Выбрать бар","col":133,"row":1567},{"t":"3х","col":513,"row":1567},{"t":"4ч","col":579,"row":1567}],
"replayText":[{"t":"С","col":584,"row":66}],
"legendText":[{"t":"54","col":0,"row":134,"k":"value"},{"t":"ЗАКР","col":34,"row":134,"k":"name"},{"t":"147,85","col":90,"row":134,"k":"value"},{"t":"+6,68","col":167,"row":134,"k":"value"},{"t":"(+4,73%)","col":231,"row":134,"k":"value"}],
"dateText":[{"t":"чт 01 Фев '24\u00a0\u00a0\u00a011:00","col":189,"row":1500,"a":"end"},{"t":"пт 01 Мар '24","col":585,"row":1500,"a":"end"}],
"watermark":[{"t":"Симулятор рынка","col":-258,"row":692.7}]},
"layer":[
{"data":{"values":[{"hi":70,"lo":30}]},"mark":{"type":"rect","color":"#7e57c2","opacity":0.1},"encoding":{"y":{"field":"hi","type":"quantitative","axis":null,"scale":{"domain":[21.6,76.9],"range":[1475,1363]}},"y2":{"field":"lo"}}},
{"data":{"name":"priceGrid"},"mark":{"type":"rule","color":"#f0f1f4","strokeWidth":1},"encoding":{"y":{"field":"p","type":"quantitative","axis":null,"scale":{"domain":[74.2,180.8],"range":[1190,124]}}}},
{"data":{"values":[{"v":6.6},{"v":-6.6}]},"mark":{"type":"rule","color":"#f0f1f4","strokeWidth":1},"encoding":{"y":{"field":"v","type":"quantitative","axis":null,"scale":{"domain":[-7.3,9.9],"range":[1362,1190]}}}},
{"data":{"values":[{"v":40}]},"mark":{"type":"rule","color":"#e4e1ee","strokeWidth":1},"encoding":{"y":{"field":"v","type":"quantitative","axis":null,"scale":{"domain":[21.6,76.9],"range":[1475,1363]}}}},
{"data":{"name":"timeGrid"},"mark":{"type":"rule","color":"#f0f1f4","strokeWidth":1},"encoding":{"x":{"field":"bar","type":"quantitative","axis":null,"scale":{"domain":[-0.62,220.99],"range":[0,599]}},"y":{"field":"from","type":"quantitative","axis":null,"scale":{"domain":[0,1645],"range":[0,1645]}},"y2":{"field":"to"}}},
{"data":{"name":"watermark"},"mark":{"type":"text","font":"Liberation Sans","fontSize":140,"align":"left","baseline":"alphabetic","color":"#dbdcdf"},"encoding":{"text":{"field":"t"},"x":{"field":"col","type":"quantitative","axis":null,"scale":{"domain":[0,599],"range":[0,599]}},"y":{"field":"row","type":"quantitative","axis":null,"scale":{"domain":[0,1645],"range":[0,1645]}}}},
{"data":{"values":[{"p":147.85}]},"mark":{"type":"rule","color":"#f5737d","strokeWidth":1,"strokeDash":[1,2]},"encoding":{"y":{"field":"p","type":"quantitative","axis":null,"scale":{"domain":[74.2,180.8],"range":[1190,124]}}}},
{"data":{"values":[{"v":70},{"v":30}]},"mark":{"type":"rule","color":"#787b86","strokeWidth":1,"strokeDash":[5,4]},"encoding":{"y":{"field":"v","type":"quantitative","axis":null,"scale":{"domain":[21.6,76.9],"range":[1475,1363]}}}},
{"data":{"values":[{"v":50}]},"mark":{"type":"rule","color":"#787b86","strokeWidth":1,"opacity":0.5,"strokeDash":[5,4]},"encoding":{"y":{"field":"v","type":"quantitative","axis":null,"scale":{"domain":[21.6,76.9],"range":[1475,1363]}}}},
{"data":{"values":[{"bar":198.6,"v":70},{"bar":199,"v":76.9},{"bar":204,"v":76.9},{"bar":206,"v":70}]},"mark":{"type":"area","color":"#e3f4e5"},"encoding":{"x":{"field":"bar","type":"quantitative","axis":null,"scale":{"domain":[-0.62,220.99],"range":[0,599]}},"y":{"field":"v","type":"quantitative","axis":null,"scale":{"domain":[21.6,76.9],"range":[1475,1363]}},"y2":{"datum":70}}},
{"data":{"name":"rsi"},"mark":{"type":"line","color":"#7e57c2","strokeWidth":1.8,"clip":true},"encoding":{"x":{"field":"bar","type":"quantitative","axis":null,"scale":{"domain":[-0.62,220.99],"range":[0,599]}},"y":{"field":"v","type":"quantitative","axis":null,"scale":{"domain":[21.6,76.9],"range":[1475,1363]}}}},
{"data":{"name":"rsiAvg"},"mark":{"type":"line","color":"#fdd835","strokeWidth":1.5,"clip":true,"interpolate":"monotone"},"encoding":{"x":{"field":"bar","type":"quantitative","axis":null,"scale":{"domain":[-0.62,220.99],"range":[0,599]}},"y":{"field":"v","type":"quantitative","axis":null,"scale":{"domain":[21.6,76.9],"range":[1475,1363]}}}},
{"data":{"name":"markers"},"mark":{"type":"rule","color":"#1a4bcc","strokeWidth":5,"strokeDash":[25,30]},"encoding":{"x":{"field":"bar","type":"quantitative","axis":null,"scale":{"domain":[-0.62,220.99],"range":[0,599]}},"y":{"field":"from","type":"quantitative","axis":null,"scale":{"domain":[0,1645],"range":[0,1645]}},"y2":{"field":"to"}}},
{"data":{"values":[{"bar":33.2,"from":112,"to":130}]},"mark":{"type":"rule","color":"#ffffff","strokeWidth":5,"opacity":0.5},"encoding":{"x":{"field":"bar","type":"quantitative","axis":null,"scale":{"domain":[-0.62,220.99],"range":[0,599]}},"y":{"field":"from","type":"quantitative","axis":null,"scale":{"domain":[0,1645],"range":[0,1645]}},"y2":{"field":"to"}}},
{"data":{"name":"bars"},"mark":{"type":"rule","strokeWidth":1},"encoding":{"x":{"field":"bar","type":"quantitative","axis":null,"scale":{"domain":[-0.62,220.99],"range":[0,599]}},"y":{"field":"low","type":"quantitative","axis":null,"scale":{"domain":[74.2,180.8],"range":[1190,124]}},"y2":{"field":"high"},"color":{"field":"dir","type":"nominal","legend":null,"scale":{"domain":["up","down"],"range":["#26a69a","#ef5350"]}}}},
{"data":{"name":"ma"},"mark":{"type":"line","strokeWidth":2,"clip":true,"interpolate":"monotone"},"encoding":{"x":{"field":"bar","type":"quantitative","axis":null,"scale":{"domain":[-0.62,220.99],"range":[0,599]}},"y":{"field":"v","type":"quantitative","axis":null,"scale":{"domain":[74.2,180.8],"range":[1190,124]}},"color":{"field":"s","type":"nominal","legend":null,"scale":{"domain":["fast","slow"],"range":["#ec4f85","#f9851f"]}}}},
{"data":{"name":"strokes"},"mark":{"type":"line","strokeWidth":5.5,"color":"#e2565c","opacity":0.35,"strokeCap":"round"},"encoding":{"x":{"field":"bar","type":"quantitative","axis":null,"scale":{"domain":[-0.62,220.99],"range":[0,599]}},"y":{"field":"p","type":"quantitative","axis":null,"scale":{"domain":[74.2,180.8],"range":[1190,124]}},"detail":{"field":"id"}}},
{"data":{"name":"strokes"},"mark":{"type":"line","strokeWidth":3,"color":"#d40a0a","strokeCap":"round"},"encoding":{"x":{"field":"bar","type":"quantitative","axis":null,"scale":{"domain":[-0.62,220.99],"range":[0,599]}},"y":{"field":"p","type":"quantitative","axis":null,"scale":{"domain":[74.2,180.8],"range":[1190,124]}},"detail":{"field":"id"}}},
{"data":{"name":"bars"},"mark":{"type":"bar","size":2.8,"opacity":0.88},"encoding":{"x":{"field":"bar","type":"quantitative","axis":null,"scale":{"domain":[-0.62,220.99],"range":[0,599]}},"y":{"field":"hist","type":"quantitative","axis":null,"scale":{"domain":[-7.3,9.9],"range":[1362,1190]}},"y2":{"datum":0},"color":{"field":"tone","type":"nominal","legend":null,"scale":{"domain":["A","B","C","D"],"range":["#00ff00","#008000","#800000","#ff0000"]}}}},
{"data":{"values":[{"v":0}]},"mark":{"type":"rule","color":"#a8a9b0","strokeWidth":2,"opacity":0.55},"encoding":{"y":{"field":"v","type":"quantitative","axis":null,"scale":{"domain":[-7.3,9.9],"range":[1362,1190]}}}},
{"data":{"name":"rects"},"mark":{"type":"rect"},"encoding":{"x":{"field":"c1","type":"quantitative","axis":null,"scale":{"domain":[0,599],"range":[0,599]}},"x2":{"field":"c2"},"y":{"field":"r1","type":"quantitative","axis":null,"scale":{"domain":[0,1645],"range":[0,1645]}},"y2":{"field":"r2"},"color":{"field":"item","type":"nominal","legend":null,"scale":{"domain":["topline","band","frameTop","frameBottom","footline","sep1","sep2","pane1","pane2","axis","tabLine","tabEdge"],"range":["#e4e4e4","#e9e9e9","#2a2a2a","#2a2a2a","#e8e8e8","#e8e8e8","#e8e8e8","#e0e3eb","#e0e3eb","#e0e3eb","#4a4a4a","#4a4a4a"]}}}},
{"data":{"name":"rounded"},"mark":{"type":"rect","cornerRadius":4},"encoding":{"x":{"field":"c1","type":"quantitative","axis":null,"scale":{"domain":[0,599],"range":[0,599]}},"x2":{"field":"c2"},"y":{"field":"r1","type":"quantitative","axis":null,"scale":{"domain":[0,1645],"range":[0,1645]}},"y2":{"field":"r2"},"color":{"field":"item","type":"nominal","legend":null,"scale":{"domain":["green","purple","startLabel","endLabel","replay"],"range":["#2fa84f","#6f42c1","#1a4bcc","#1a4bcc","#2b2b2b"]}}}},
{"data":{"name":"icons"},"mark":{"type":"point","filled":false,"strokeWidth":1.8,"color":"#131722","opacity":1},"encoding":{"x":{"field":"col","type":"quantitative","axis":null,"scale":{"domain":[0,599],"range":[0,599]}},"y":{"field":"row","type":"quantitative","axis":null,"scale":{"domain":[0,1645],"range":[0,1645]}},"shape":{"field":"item","type":"nominal","legend":null,"scale":{"domain":["chevronTop","chevronBottom","grid","alarm","pick","play","step"],"range":["M-1 -0.5 L0 0.5 L1 -0.5","M-1 -0.5 L0 0.5 L1 -0.5","M-0.8 -1 H-0.3 A0.2 0.2 0 0 1 -0.1 -0.8 V-0.3 A0.2 0.2 0 0 1 -0.3 -0.1 H-0.8 A0.2 0.2 0 0 1 -1 -0.3 V-0.8 A0.2 0.2 0 0 1 -0.8 -1 Z M0.3 -1 H0.8 A0.2 0.2 0 0 1 1 -0.8 V-0.3 A0.2 0.2 0 0 1 0.8 -0.1 H0.3 A0.2 0.2 0 0 1 0.1 -0.3 V-0.8 A0.2 0.2 0 0 1 0.3 -1 Z M-0.8 0.1 H-0.3 A0.2 0.2 0 0 1 -0.1 0.3 V0.8 A0.2 0.2 0 0 1 -0.3 1 H-0.8 A0.2 0.2 0 0 1 -1 0.8 V0.3 A0.2 0.2 0 0 1 -0.8 0.1 Z M0.3 0.1 H0.8 A0.2 0.2 0 0 1 1 0.3 V0.8 A0.2 0.2 0 0 1 0.8 1 H0.3 A0.2 0.2 0 0 1 0.1 0.8 V0.3 A0.2 0.2 0 0 1 0.3 0.1 Z","M0.72 0.2 A0.78 0.78 0 1 0 -0.1 0.78 M-0.95 -0.6 L-0.6 -1 M0.95 -0.6 L0.6 -1 M0 -0.45 L0 0 L-0.35 0 M0.55 0.25 L0.55 1 M0.15 0.62 L0.95 0.62","M-1 -1 L-0.65 -1 L-0.65 1 L-1 1 Z M-0.45 0 L-0.05 -0.3 L-0.05 0.3 Z M-0.05 0 L0.95 0","M-0.7 -1 L0.7 0 L-0.7 1 Z","M-1 -1 L0.1 0 L-1 1 Z M0.55 -1 L0.55 1"]}},"size":{"field":"item","type":"nominal","legend":null,"scale":{"type":"ordinal","domain":["chevronTop","chevronBottom","grid","alarm","pick","play","step"],"range":[144,144,784,1225,784,729,729]}}}},
{"data":{"name":"back"},"mark":{"type":"point","filled":false,"strokeWidth":1.8,"color":"#ffffff","opacity":1,"shape":"M-0.1 -0.85 L-1 0 L-0.1 0.85 Z M1 -0.85 L0.1 0 L1 0.85 Z","size":576},"encoding":{"x":{"field":"col","type":"quantitative","axis":null,"scale":{"domain":[0,599],"range":[0,599]}},"y":{"field":"row","type":"quantitative","axis":null,"scale":{"domain":[0,1645],"range":[0,1645]}}}},
{"data":{"name":"tabs"},"mark":{"type":"text","font":"Noto Sans","fontSize":20,"align":"left","baseline":"middle","color":"#3c3c44"},"encoding":{"text":{"field":"t"},"x":{"field":"col","type":"quantitative","axis":null,"scale":{"domain":[0,599],"range":[0,599]}},"y":{"field":"row","type":"quantitative","axis":null,"scale":{"domain":[0,1645],"range":[0,1645]}}}},
{"data":{"name":"tools"},"mark":{"type":"text","font":"Noto Sans","fontSize":22.5,"align":"left","baseline":"middle","color":"#131722"},"encoding":{"text":{"field":"t"},"x":{"field":"col","type":"quantitative","axis":null,"scale":{"domain":[0,599],"range":[0,599]}},"y":{"field":"row","type":"quantitative","axis":null,"scale":{"domain":[0,1645],"range":[0,1645]}}}},
{"data":{"name":"replayText"},"mark":{"type":"text","font":"Noto Sans","fontSize":23,"align":"left","baseline":"middle","color":"#ffffff"},"encoding":{"text":{"field":"t"},"x":{"field":"col","type":"quantitative","axis":null,"scale":{"domain":[0,599],"range":[0,599]}},"y":{"field":"row","type":"quantitative","axis":null,"scale":{"domain":[0,1645],"range":[0,1645]}}}},
{"data":{"name":"legendText"},"mark":{"type":"text","font":"Noto Sans","fontSize":20.6,"align":"left","baseline":"middle"},"encoding":{"text":{"field":"t"},"x":{"field":"col","type":"quantitative","axis":null,"scale":{"domain":[0,599],"range":[0,599]}},"y":{"field":"row","type":"quantitative","axis":null,"scale":{"domain":[0,1645],"range":[0,1645]}},"color":{"field":"k","type":"nominal","legend":null,"scale":{"domain":["value","name"],"range":["#26a69a","#131722"]}}}},
{"data":{"name":"dateText"},"mark":{"type":"text","font":"Noto Sans","fontSize":20.3,"align":"right","baseline":"middle","color":"#ffffff"},"encoding":{"text":{"field":"t"},"x":{"field":"col","type":"quantitative","axis":null,"scale":{"domain":[0,599],"range":[0,599]}},"y":{"field":"row","type":"quantitative","axis":null,"scale":{"domain":[0,1645],"range":[0,1645]}}}}
],
"resolve":{"scale":{"x":"independent","y":"independent","color":"independent","shape":"independent","size":"independent"}}}
